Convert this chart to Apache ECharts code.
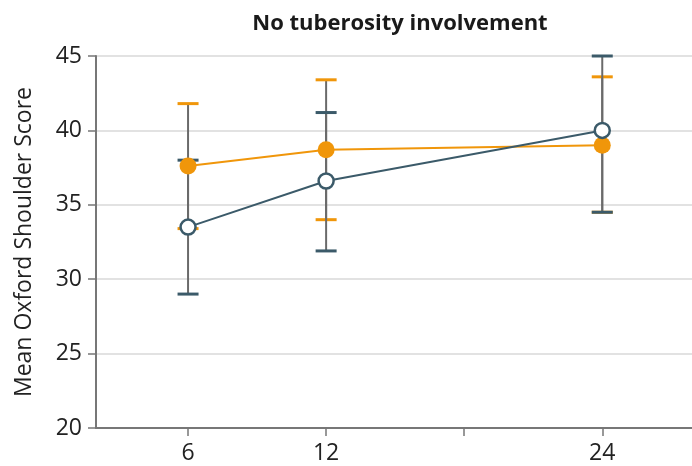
<!DOCTYPE html>
<html><head><meta charset="utf-8">
<script src="https://cdn.jsdelivr.net/npm/echarts@6/dist/echarts.min.js"></script>
<style>html,body{margin:0;padding:0;background:#fff}#c{width:692px;height:466px}</style>
</head><body><div id="c"></div>
<script>
const months = [6, 12, 24];
const xTicks = [6, 12, 18, 24];
const xLabels = [6, 12, 24];
const yTicks = [20, 25, 30, 35, 40, 45];
const orangeMean = [37.6, 38.7, 39.0];
const orangeLow = [33.4, 34.0, 34.5];
const orangeHigh = [41.8, 43.4, 43.6];
const slateMean = [33.5, 36.6, 40.0];
const slateLow = [29.0, 31.9, 34.5];
const slateHigh = [38.0, 41.2, 45.0];

const ORANGE = '#F0960A', SLATE = '#3B5A69', FONT = '"Open Sans", "Noto Sans", sans-serif';

function errData(low, high) { return months.map((m, i) => [m, low[i], high[i]]); }
function errSeries(low, high, color) {
  return {
    type: 'custom', z: 1, silent: true,
    data: errData(low, high),
    renderItem: function (params, api) {
      const x = api.value(0);
      const p1 = api.coord([x, api.value(1)]);
      const p2 = api.coord([x, api.value(2)]);
      const hw = 10.5;
      return { type: 'group', children: [
        { type: 'line', shape: { x1: p1[0], y1: p1[1], x2: p2[0], y2: p2[1] }, style: { stroke: '#6a6a6a', lineWidth: 2 } },
        { type: 'line', shape: { x1: p1[0] - hw, y1: p1[1], x2: p1[0] + hw, y2: p1[1] }, style: { stroke: color, lineWidth: 3 } },
        { type: 'line', shape: { x1: p2[0] - hw, y1: p2[1], x2: p2[0] + hw, y2: p2[1] }, style: { stroke: color, lineWidth: 3 } }
      ]};
    }
  };
}

const chart = echarts.init(document.getElementById('c'), null, { renderer: 'canvas' });
chart.setOption({
  animation: false,
  title: { text: 'No tuberosity involvement', left: 395, top: 8, textAlign: 'center',
    textStyle: { fontFamily: FONT, fontWeight: 'bold', fontSize: 22, color: '#1a1a1a' } },
  grid: { left: 96, right: 0, top: 56, bottom: 38, containLabel: false },
  xAxis: {
    type: 'value', min: 2, max: 27.9,
    axisLine: { show: true, lineStyle: { color: '#777', width: 2 } },
    axisTick: { show: true, length: 8, customValues: xTicks, lineStyle: { color: '#777', width: 1.5 } },
    axisLabel: { customValues: xLabels, color: '#222', fontSize: 23, fontFamily: FONT, margin: 14 },
    splitLine: { show: false }
  },
  yAxis: {
    type: 'value', min: 20, max: 45, interval: 5,
    name: 'Mean Oxford Shoulder Score', nameLocation: 'middle', nameGap: 60,
    nameTextStyle: { color: '#222', fontSize: 23, fontFamily: FONT },
    axisLine: { show: true, lineStyle: { color: '#777', width: 2 } },
    axisTick: { show: true, length: 8, lineStyle: { color: '#777', width: 1.5 } },
    axisLabel: { color: '#222', fontSize: 23, fontFamily: FONT, margin: 14, customValues: yTicks },
    splitLine: { show: true, lineStyle: { color: '#e2e2e2', width: 2 } }
  },
  series: [
    errSeries(orangeLow, orangeHigh, ORANGE),
    errSeries(slateLow, slateHigh, SLATE),
    { type: 'line', z: 3, data: months.map((m, i) => [m, orangeMean[i]]),
      symbol: 'circle', symbolSize: 17, showSymbol: true,
      lineStyle: { color: ORANGE, width: 2 },
      itemStyle: { color: ORANGE, borderColor: ORANGE, borderWidth: 0 } },
    { type: 'line', z: 4, data: months.map((m, i) => [m, slateMean[i]]),
      symbol: 'circle', symbolSize: 15, showSymbol: true,
      lineStyle: { color: SLATE, width: 2 },
      itemStyle: { color: '#fff', borderColor: SLATE, borderWidth: 2.5 } }
  ]
});
</script></body></html>
